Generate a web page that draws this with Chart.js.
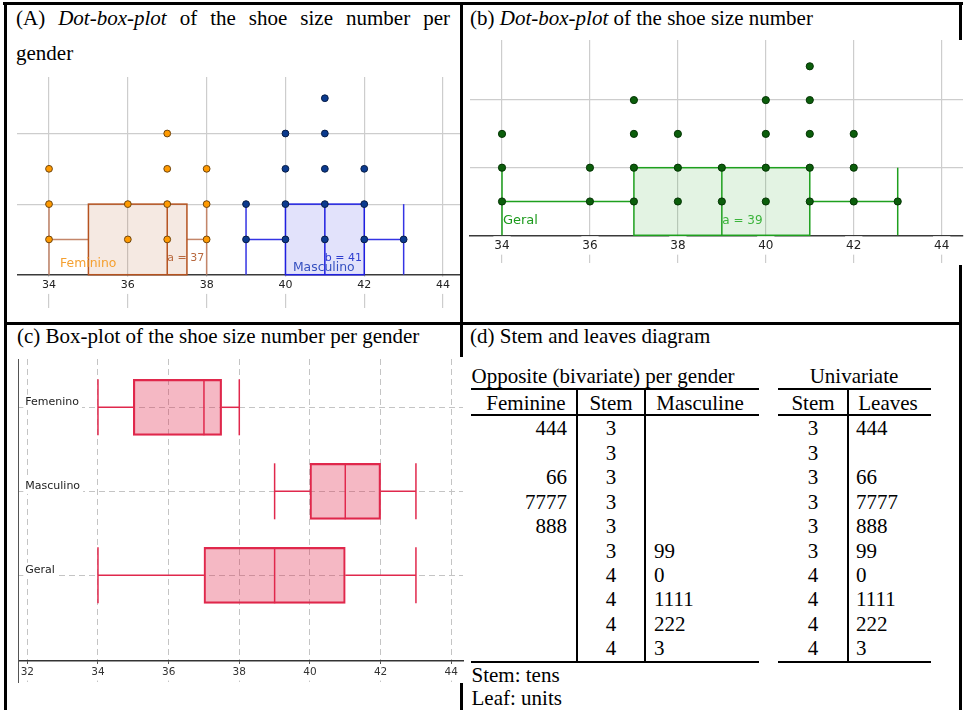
<!DOCTYPE html>
<html><head><meta charset="utf-8">
<script src="https://cdn.jsdelivr.net/npm/chart.js@4.4.0/dist/chart.umd.min.js"></script>
<style>
html,body{margin:0;padding:0;background:#fff;}
body{width:965px;height:710px;position:relative;overflow:hidden;}
.t{position:absolute;font-family:"Liberation Serif","Times New Roman",serif;font-size:21px;color:#000;white-space:nowrap;line-height:24px;}
.b{position:absolute;background:#000;}
canvas{position:absolute;}
</style></head><body>
<div class="t" style="left:16px;top:0.5px;width:434px;white-space:normal;text-align:justify;line-height:35.5px;">(A) <i>Dot-box-plot</i> of the shoe size number per gender</div>
<div class="t" style="left:470px;top:0.5px;line-height:35.5px;">(b) <i>Dot-box-plot</i> of the shoe size number</div>
<div class="t" style="left:17px;top:323.8px;">(c) Box-plot of the shoe size number per gender</div>
<div class="t" style="left:470px;top:324.3px;">(d) Stem and leaves diagram</div>
<div id="tbl"></div>
<canvas id="cA" width="452" height="245" style="left:8px;top:70px"></canvas>
<canvas id="cB" width="501" height="230" style="left:464px;top:38px"></canvas>
<canvas id="cC" width="465" height="360" style="left:0px;top:340px"></canvas>
<div class="b" style="left:3px;top:2px;width:960px;height:3px"></div>
<div class="b" style="left:4px;top:2px;width:3px;height:708px"></div>
<div class="b" style="left:460px;top:2px;width:3px;height:355px"></div>
<div class="b" style="left:460px;top:683px;width:3px;height:27px"></div>
<div class="b" style="left:959px;top:2px;width:3px;height:38px"></div>
<div class="b" style="left:959px;top:265px;width:3px;height:445px"></div>
<div class="b" style="left:4px;top:322px;width:958px;height:3px"></div>
<script>
// ---------- data ----------
const xTicksAB = [34, 36, 38, 40, 42, 44];
const xTicksC = [32, 34, 36, 38, 40, 42, 44];
const dotGridLevels = [2, 4];
const femSizes = [34, 36, 37, 38];
const femCounts = [3, 2, 4, 3];
const masSizes = [39, 40, 41, 42, 43];
const masCounts = [2, 4, 5, 3, 1];
const allSizes = [34, 36, 37, 38, 39, 40, 41, 42, 43];
const allCounts = [3, 2, 4, 3, 2, 4, 5, 3, 1];
// min, Q1, median, Q3, max
const femStats = [34, 35, 37, 37.5, 38];
const masStats = [39, 40, 41, 42, 43];
const allStats = [34, 37, 39, 41, 43];
const boxCategories = ['Femenino', 'Masculino', 'Geral'];
const boxStats = [femStats, masStats, allStats];
const stems = ['3', '3', '3', '3', '3', '3', '4', '4', '4', '4'];
const femLeaves = ['444', '', '66', '7777', '888', '', '', '', '', ''];
const masLeaves = ['', '', '', '', '', '99', '0', '1111', '222', '3'];
const uniLeaves = ['444', '', '66', '7777', '888', '99', '0', '1111', '222', '3'];

// ---------- stem and leaves table ----------
const T = document.getElementById('tbl');
function addText(str, st) { const d = document.createElement('div'); d.className = 't'; d.textContent = str; Object.assign(d.style, st); T.appendChild(d); }
function addRule(l, t, w, h) { const d = document.createElement('div'); d.className = 'b'; Object.assign(d.style, {left: l + 'px', top: t + 'px', width: w + 'px', height: h + 'px'}); T.appendChild(d); }
function center(str, cx, cy) { addText(str, {left: (cx - 80) + 'px', width: '160px', textAlign: 'center', top: (cy - 12) + 'px'}); }
addText('Opposite (bivariate) per gender', {left: '471.5px', top: '364px'});
center('Univariate', 854, 376);
center('Feminine', 526, 402.5);
center('Stem', 611, 402.5);
center('Masculine', 700, 402.5);
center('Stem', 813, 402.5);
center('Leaves', 888, 402.5);
stems.forEach((s, i) => {
  const cy = 428.3 + i * 24.45;
  addText(femLeaves[i], {right: (965 - 567) + 'px', top: (cy - 12) + 'px', textAlign: 'right'});
  center(s, 611, cy);
  addText(masLeaves[i], {left: '654px', top: (cy - 12) + 'px'});
  center(s, 813, cy);
  addText(uniLeaves[i], {left: '856px', top: (cy - 12) + 'px'});
});
addText('Stem: tens', {left: '471.5px', top: '663px'});
addText('Leaf: units', {left: '471.5px', top: '686.3px'});
[388, 414, 661].forEach(y => { addRule(471, y, 288, 2); addRule(778, y, 153, 2); });
[576, 644, 847].forEach(x => addRule(x, 389, 2, 273));

// ---------- charts ----------
function dotPoints(sizes, counts) {
  const pts = [];
  sizes.forEach((s, i) => { for (let k = 1; k <= counts[i]; k++) pts.push({x: s, y: k}); });
  return pts;
}
function seg(ctx, x1, y1, x2, y2) { ctx.beginPath(); ctx.moveTo(x1, y1); ctx.lineTo(x2, y2); ctx.stroke(); }
function noPad(s) { s.paddingLeft = 0; s.paddingRight = 0; s.paddingTop = 0; s.paddingBottom = 0; }

const dotBoxPlugin = {
  id: 'dotBox',
  beforeDatasetsDraw(chart, args, opts) {
    const {ctx, scales: {x, y}} = chart;
    const X = v => x.getPixelForValue(v), Y = v => y.getPixelForValue(v);
    opts.boxes.forEach(b => {
      const [mn, q1, md, q3, mx] = b.stats;
      const y0 = Y(opts.base), y1 = Y(opts.whisker), y2 = Y(opts.top);
      ctx.save();
      ctx.fillStyle = b.fill;
      ctx.fillRect(X(q1), y2, X(q3) - X(q1), y0 - y2);
      ctx.lineWidth = 1.5;
      ctx.strokeStyle = b.whiskerColor;
      seg(ctx, X(mn), y1, X(q1), y1);
      seg(ctx, X(q3), y1, X(mx), y1);
      seg(ctx, X(mn), y0, X(mn), y2);
      seg(ctx, X(mx), y0, X(mx), y2);
      ctx.strokeStyle = b.stroke;
      ctx.strokeRect(X(q1), y2, X(q3) - X(q1), y0 - y2);
      seg(ctx, X(md), y0, X(md), y2);
      ctx.restore();
    });
  },
  afterDatasetsDraw(chart, args, opts) {
    const {ctx, scales: {x, y}} = chart;
    (opts.labels || []).forEach(l => {
      ctx.save();
      ctx.font = l.font; ctx.fillStyle = l.color; ctx.textAlign = 'left'; ctx.textBaseline = 'middle';
      ctx.fillText(l.text, x.getPixelForValue(l.x), y.getPixelForValue(l.y));
      ctx.restore();
    });
  }
};

const gridGray = '#cdcdcd';
function dotAxes(xr, yr, tickSize, pad) {
  return {
    x: {
      type: 'linear', min: xr[0], max: xr[1], position: {y: 0},
      afterBuildTicks: s => { s.ticks = xTicksAB.map(v => ({value: v})); },
      afterFit: noPad,
      grid: {color: gridGray, lineWidth: 1.2, drawTicks: false},
      border: {display: true, color: '#3a3a3a', width: 1.5},
      ticks: {color: '#222', font: {family: 'DejaVu Sans', size: tickSize}, padding: pad, maxRotation: 0, autoSkip: false,
        showLabelBackdrop: true, backdropColor: '#ffffff', backdropPadding: {left: 1, right: 1, top: 2, bottom: 2}}
    },
    y: {
      type: 'linear', min: yr[0], max: yr[1], position: 'left',
      afterBuildTicks: s => { s.ticks = dotGridLevels.map(v => ({value: v})); },
      afterFit: noPad,
      grid: {color: gridGray, lineWidth: 1.2, drawTicks: false},
      border: {display: false}, ticks: {display: false}
    }
  };
}
const common = {responsive: false, animation: false, events: [], devicePixelRatio: 1};

new Chart(document.getElementById('cA'), {
  type: 'scatter',
  data: {datasets: [
    {data: dotPoints(femSizes, femCounts), pointRadius: 3.4, pointBorderWidth: 1, backgroundColor: '#ff9a00', borderColor: '#6e4510'},
    {data: dotPoints(masSizes, masCounts), pointRadius: 3.4, pointBorderWidth: 1, backgroundColor: '#0b3a8e', borderColor: '#071c45'}
  ]},
  options: Object.assign({}, common, {
    layout: {autoPadding: false, padding: {left: 9.3, top: 7, right: 0, bottom: 7}},
    plugins: {legend: {display: false}, tooltip: {enabled: false},
      dotBox: {base: 0, whisker: 1, top: 2,
        boxes: [
          {stats: femStats, fill: 'rgba(181,84,31,0.13)', stroke: '#b5521f', whiskerColor: '#c4866a'},
          {stats: masStats, fill: 'rgba(32,32,224,0.13)', stroke: '#1f1fe0', whiskerColor: '#3434e4'}
        ],
        labels: [
          {text: 'Feminino', x: 34.28, y: 0.30, color: '#f5a030', font: '12.4px "DejaVu Sans"'},
          {text: 'a = ' + femStats[2], x: 37.0, y: 0.47, color: '#b8693f', font: '11px "DejaVu Sans"'},
          {text: 'b = ' + masStats[2], x: 41.0, y: 0.47, color: '#2f3fd0', font: '11px "DejaVu Sans"'},
          {text: 'Masculino', x: 40.19, y: 0.19, color: '#3550c0', font: '12.4px "DejaVu Sans"'}
        ]}},
    scales: dotAxes([33.195, 44.43], [-0.943, 5.601], 11, 4)
  }),
  plugins: [dotBoxPlugin]
});

new Chart(document.getElementById('cB'), {
  type: 'scatter',
  data: {datasets: [
    {data: dotPoints(allSizes, allCounts), pointRadius: 3.6, pointBorderWidth: 1, backgroundColor: '#0b5e0b', borderColor: '#053505'}
  ]},
  options: Object.assign({}, common, {
    layout: {autoPadding: false, padding: {left: 6, top: 2, right: 2, bottom: 5}},
    plugins: {legend: {display: false}, tooltip: {enabled: false},
      dotBox: {base: 0, whisker: 1, top: 2,
        boxes: [{stats: allStats, fill: 'rgba(26,160,26,0.12)', stroke: '#1ea01e', whiskerColor: '#1ea01e'}],
        labels: [
          {text: 'Geral', x: 34.02, y: 0.44, color: '#1c9a1c', font: '13px "DejaVu Sans"'},
          {text: 'a = ' + allStats[2], x: 39.01, y: 0.44, color: '#3cb43c', font: '12px "DejaVu Sans"'}
        ]}},
    scales: dotAxes([33.272, 44.485], [-0.82, 5.778], 12, 3)
  }),
  plugins: [dotBoxPlugin]
});

const hBoxPlugin = {
  id: 'hBox',
  afterDatasetsDraw(chart, args, opts) {
    const {ctx, scales: {x, y}} = chart;
    const X = v => x.getPixelForValue(v);
    boxStats.forEach((s, i) => {
      const [mn, q1, md, q3, mx] = s;
      const yc = y.getPixelForValue(i), yt = y.getPixelForValue(i - opts.half), yb = y.getPixelForValue(i + opts.half);
      ctx.save();
      ctx.strokeStyle = opts.color; ctx.lineWidth = 1.5;
      seg(ctx, X(mn), yc, X(q1), yc);
      seg(ctx, X(q3), yc, X(mx), yc);
      seg(ctx, X(mn), yt, X(mn), yb);
      seg(ctx, X(mx), yt, X(mx), yb);
      seg(ctx, X(md), yt, X(md), yb);
      ctx.restore();
    });
  }
};

new Chart(document.getElementById('cC'), {
  type: 'bar',
  data: {datasets: [{
    data: boxStats.map((s, i) => ({x: [s[1], s[3]], y: i})),
    backgroundColor: 'rgba(224,40,76,0.33)', borderColor: '#e0284c', borderWidth: 1.5, borderSkipped: false, barThickness: 56
  }]},
  options: Object.assign({}, common, {
    indexAxis: 'y',
    layout: {autoPadding: false, padding: {left: 4.3, top: 19, right: 2, bottom: 18}},
    plugins: {legend: {display: false}, tooltip: {enabled: false}, hBox: {half: 1 / 3, color: '#e0284c'}},
    scales: {
      x: {
        type: 'linear', min: 31.745, max: 44.332, position: {y: 3.02}, beginAtZero: false,
        afterBuildTicks: s => { s.ticks = xTicksC.map(v => ({value: v})); },
        afterFit: noPad,
        grid: {color: '#c4c4c4', lineWidth: 1, drawTicks: true, tickLength: 3, tickColor: '#555', tickWidth: 1},
        border: {display: true, color: '#333', width: 1.5, dash: [6, 4]},
        ticks: {color: '#333', font: {family: 'DejaVu Sans', size: 10.5}, padding: 2, maxRotation: 0, autoSkip: false,
          showLabelBackdrop: true, backdropColor: '#ffffff', backdropPadding: {left: 1, right: 1, top: 2, bottom: 2}}
      },
      y: {
        type: 'linear', reverse: true, min: -0.575, max: 3.27, position: 'left', offset: false,
        afterBuildTicks: s => { s.ticks = boxCategories.map((_, i) => ({value: i})); },
        afterFit: noPad,
        grid: {offset: false, color: '#c4c4c4', lineWidth: 1, drawTicks: false},
        border: {display: true, color: '#555', width: 1, dash: [6, 4]},
        ticks: {mirror: true, padding: 7, labelOffset: -5, color: '#222', font: {family: 'DejaVu Sans', size: 11},
          callback: v => boxCategories[v],
          showLabelBackdrop: true, backdropColor: '#ffffff', backdropPadding: {left: 2, right: 3, top: 1, bottom: 1}}
      }
    }
  }),
  plugins: [hBoxPlugin]
});
</script>
</body></html>
